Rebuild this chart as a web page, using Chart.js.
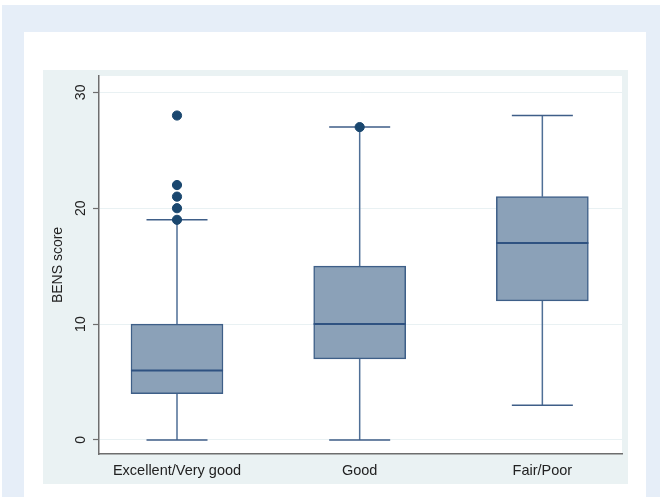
<!DOCTYPE html>
<html>
<head>
<meta charset="utf-8">
<script src="https://cdn.jsdelivr.net/npm/chart.js@4"></script>
<style>
  html, body { margin: 0; padding: 0; background: #ffffff; width: 660px; height: 497px; overflow: hidden; }
  #outer { position: absolute; left: 2px; top: 5px; width: 658px; height: 492px; background: #e6eef8; }
  #panel { position: absolute; left: 24px; top: 32px; width: 622px; height: 465px; background: #ffffff; }
  #wrap { position: absolute; left: 43px; top: 70px; width: 585px; height: 414px; background: #eaf2f3; }
  canvas { display: block; }
</style>
</head>
<body>
<div id="outer"></div>
<div id="panel"></div>
<div id="wrap"><canvas id="c" width="585" height="414"></canvas></div>
<script>
// ---- data ----
const categories = ['Excellent/Very good', 'Good', 'Fair/Poor'];
const whiskerLow = [0, 0, 3];
const q1 = [4, 7, 12];
const medians = [6, 10, 17];
const q3 = [10, 15, 21];
const whiskerHigh = [19, 27, 28];
const outliers = [[19, 20, 21, 22, 28], [27], []];
const yTicks = [0, 10, 20, 30];

// ---- derived datasets ----
const positions = categories.map((_, i) => i + 1);
const BOX_HALF = 0.252;
const CAP_HALF = 0.167;

const boxData = positions.map((x, i) => ({ x: x, y: [q1[i], q3[i]] }));
const medianData = [];
const whiskerData = [];
const capData = [];
positions.forEach((x, i) => {
  medianData.push({ x: x - BOX_HALF, y: medians[i] }, { x: x + BOX_HALF, y: medians[i] }, { x: x, y: null });
  whiskerData.push({ x: x, y: whiskerLow[i] }, { x: x, y: q1[i] }, { x: x, y: null });
  whiskerData.push({ x: x, y: q3[i] }, { x: x, y: whiskerHigh[i] }, { x: x, y: null });
  capData.push({ x: x - CAP_HALF, y: whiskerLow[i] }, { x: x + CAP_HALF, y: whiskerLow[i] }, { x: x, y: null });
  capData.push({ x: x - CAP_HALF, y: whiskerHigh[i] }, { x: x + CAP_HALF, y: whiskerHigh[i] }, { x: x, y: null });
});
const outlierData = [];
positions.forEach((x, i) => outliers[i].forEach(v => outlierData.push({ x: x, y: v })));

const FONT = '"Liberation Sans", Arial, Helvetica, sans-serif';

const areaBg = {
  id: 'areaBg',
  beforeDraw(chart) {
    const a = chart.chartArea, ctx = chart.ctx;
    ctx.save();
    ctx.fillStyle = '#ffffff';
    ctx.fillRect(a.left, a.top, a.right - a.left, a.bottom - a.top);
    ctx.restore();
  }
};

new Chart(document.getElementById('c'), {
  data: {
    datasets: [
      { type: 'line', data: whiskerData, borderColor: '#4f6f96', borderWidth: 1.5, pointRadius: 0, spanGaps: false, order: 4 },
      { type: 'line', data: capData, borderColor: '#3f5e88', borderWidth: 1.5, pointRadius: 0, spanGaps: false, order: 3 },
      { type: 'bar', data: boxData, backgroundColor: '#8ba1b8', borderColor: '#3e5f88', borderWidth: 1.5, borderSkipped: false, barThickness: 92, order: 2 },
      { type: 'line', data: medianData, borderColor: '#2f5281', borderWidth: 2, pointRadius: 0, spanGaps: false, order: 1 },
      { type: 'scatter', data: outlierData, backgroundColor: '#1a476f', borderColor: '#1a476f', pointRadius: 4.6, pointHoverRadius: 4.6, order: 0 }
    ]
  },
  options: {
    responsive: false,
    animation: false,
    events: [],
    layout: { padding: { top: 6, right: 6, left: 0, bottom: 0 } },
    plugins: { legend: { display: false }, tooltip: { enabled: false } },
    scales: {
      x: {
        type: 'linear',
        offset: false,
        min: 0.573,
        max: 3.436,
        afterBuildTicks(scale) { scale.ticks = positions.map(v => ({ value: v })); },
        afterFit(scale) { scale.height = 30; scale.paddingLeft = 0; scale.paddingRight = 0; },
        grid: { display: false, drawTicks: false, offset: false },
        border: { display: true, color: '#6e6e6e', width: 1.5 },
        ticks: {
          padding: 8,
          color: '#222222',
          font: { family: FONT, size: 14.5 },
          maxRotation: 0,
          minRotation: 0,
          autoSkip: false,
          callback: (v) => { const i = Math.round(v) - 1; return categories[i] !== undefined ? categories[i] : ''; }
        }
      },
      y: {
        type: 'linear',
        min: -1.21,
        max: 31.41,
        afterBuildTicks(scale) { scale.ticks = yTicks.map(v => ({ value: v })); },
        afterFit(scale) { scale.width = 56; scale.paddingTop = 0; scale.paddingBottom = 0; },
        grid: { color: '#e9f1f3', lineWidth: 1, tickLength: 6, tickColor: '#6e6e6e', tickWidth: 1.2 },
        border: { display: true, color: '#6e6e6e', width: 1.5 },
        ticks: {
          minRotation: 90,
          maxRotation: 90,
          crossAlign: 'center',
          padding: 4,
          color: '#222222',
          font: { family: FONT, size: 14 }
        },
        title: {
          display: true,
          text: 'BENS score',
          color: '#222222',
          font: { family: FONT, size: 14 },
          padding: { top: 7, bottom: 0 }
        }
      }
    }
  },
  plugins: [areaBg]
});
</script>
</body>
</html>
